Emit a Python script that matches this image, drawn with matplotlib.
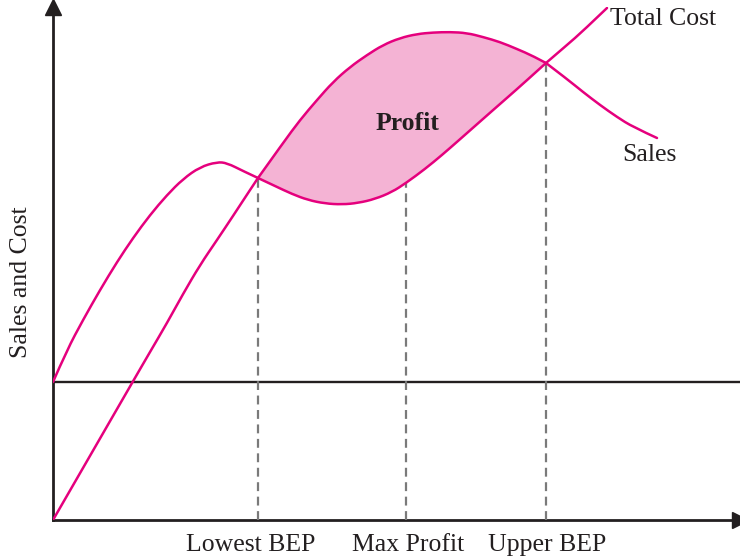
import numpy as np
import matplotlib.pyplot as plt
from matplotlib.path import Path
from matplotlib.patches import PathPatch

plt.rcParams['font.family'] = ['Liberation Serif', 'DejaVu Serif']

# curve readings (output on x, amount on y)
sales_x = [0, 79, 97, 114, 130, 147, 164, 180, 197, 205, 230, 247, 264, 280,
           297, 314, 330, 347, 364, 380, 397, 414, 430, 447, 464, 480, 493,
           514, 530, 547, 564, 580, 604]
sales_y = [0, 137, 168, 197, 226, 255, 280, 304, 330, 342, 377, 400, 420, 438,
           453, 465, 475, 482, 486, 487.5, 488, 487, 483, 478, 471, 464, 457,
           441, 428, 415, 403, 393, 382]

cost_x = [0, 14, 30, 47, 64, 80, 97, 114, 130, 147, 164, 174, 190, 205, 222,
          239, 255, 272, 289, 305, 322, 339, 353, 372, 389, 405, 422, 439,
          455, 472, 493, 514, 530, 554]
cost_y = [138, 170, 200, 230, 258, 282, 305, 325, 341, 353, 358, 357, 349, 342,
          334, 326, 320, 316.5, 315.5, 317, 321, 328, 337, 351, 365, 379, 394,
          409, 423, 438, 457, 475, 489, 512]

fixed_cost = 138
bep_x = [205, 353, 493]
bep_top = [342, 337, 457]
bep_labels = ['Lowest BEP', 'Max Profit', 'Upper BEP']

pink = '#e5007d'
ink = '#231f20'


def smooth(xs, ys):
    # quadratic bezier through midpoints, first and last points on the curve
    p = np.column_stack([xs, ys]).astype(float)
    verts, codes = [p[0]], [Path.MOVETO]
    for i in range(1, len(p) - 1):
        end = p[i + 1] if i == len(p) - 2 else (p[i] + p[i + 1]) / 2
        verts += [p[i], end]
        codes += [Path.CURVE3, Path.CURVE3]
    if len(p) == 2:
        verts.append(p[1])
        codes.append(Path.LINETO)
    return verts, codes


def pieces(xs, ys, cuts):
    # split a curve at the break-even points so they stay on it
    xs, ys = np.asarray(xs), np.asarray(ys)
    out, start = [], 0
    for c in cuts:
        k = int(np.where(xs == c)[0][0])
        out.append((xs[start:k + 1], ys[start:k + 1]))
        start = k
    out.append((xs[start:], ys[start:]))
    return out


fig = plt.figure(figsize=(7.4, 5.6), dpi=100)
ax = fig.add_axes([53 / 740, 40 / 560, 687 / 740, 513 / 560])
ax.set_xlim(0, 687)
ax.set_ylim(0, 513)

cuts = [bep_x[0], bep_x[2]]
sales_parts = pieces(sales_x, sales_y, cuts)
cost_parts = pieces(cost_x, cost_y, cuts)

# profit band: sales on top, total cost underneath
v1, c1 = smooth(*sales_parts[1])
v2, c2 = smooth(cost_parts[1][0][::-1], cost_parts[1][1][::-1])
c2 = [Path.LINETO] + c2[1:]
band = Path(v1 + v2 + [v1[0]], c1 + c2 + [Path.CLOSEPOLY])
ax.add_patch(PathPatch(band, facecolor='#f4b3d4', lw=0, zorder=1))

ax.axhline(fixed_cost, color=ink, lw=1.7, zorder=2)
ax.vlines(bep_x, 0, bep_top, colors='#7a7a7a', linestyles=(0, (4, 2.5)),
          lw=1.6, zorder=3)

for parts in (sales_parts, cost_parts):
    for px, py in parts:
        v, c = smooth(px, py)
        ax.add_patch(PathPatch(Path(v, c), facecolor='none', edgecolor=pink,
                               lw=1.8, zorder=4, capstyle='round'))

for s in ['top', 'right']:
    ax.spines[s].set_visible(False)
for s in ['left', 'bottom']:
    ax.spines[s].set_linewidth(2.0)
    ax.spines[s].set_color(ink)
ax.set_xticks([])
ax.set_yticks([])

# axis arrows
ax.plot(0, 1, '^', color=ink, ms=11, transform=ax.transAxes, clip_on=False)
ax.plot(1, 0, '>', color=ink, ms=11, transform=ax.transAxes, clip_on=False)

fs = 18.5
ax.text(557, 501, 'Total Cost', fontsize=fs, color=ink, va='center')
ax.text(569, 365, 'Sales', fontsize=fs, color=ink, va='center')
ax.text(355, 396, 'Profit', fontsize=fs, color=ink, ha='center', va='center',
        fontweight='bold')
for x, lab in zip([198, 355, 494], bep_labels):
    ax.text(x, -25, lab, fontsize=fs, color=ink, ha='center', va='center',
            clip_on=False)
ax.text(-32, 238, 'Sales and Cost', fontsize=fs, color=ink, rotation=90,
        ha='center', va='center', clip_on=False)

fig.savefig('out.png', dpi=100)
